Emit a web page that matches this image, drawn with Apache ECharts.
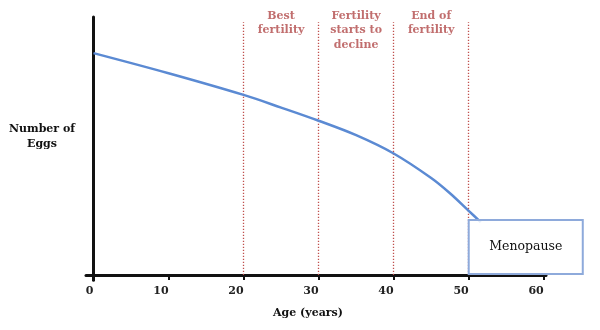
<!DOCTYPE html>
<html><head><meta charset="utf-8">
<script src="https://cdn.jsdelivr.net/npm/echarts@6/dist/echarts.min.js"></script>
<style>html,body{margin:0;padding:0;background:#fff}#c{width:600px;height:330px}</style>
</head><body><div id="c"></div>
<script>
const ages = [0, 10, 20, 25, 30, 35, 40, 45, 47.5, 50, 51.6];
const eggs = [86, 78.2, 69.8, 64.9, 59.8, 54.2, 47.1, 37.6, 31.7, 24.9, 20.5];
const tickValues = [0, 10, 20, 30, 40, 50, 60];
const phaseBounds = [20, 30, 40, 50];
const phaseCenters = [25, 35, 45];
const phaseLabels = ['Best\nfertility', 'Fertility\nstarts to\ndecline', 'End of\nfertility'];
const yName = 'Number of\nEggs';
const xName = 'Age (years)';
const boxLabel = 'Menopause';
const boxRange = [[50, 21.3], [65.2, 0.4]];

const FONT = '"DejaVu Serif", serif';
const chart = echarts.init(document.getElementById('c'), null, {renderer: 'canvas'});
chart.setOption({
  animation: false,
  grid: {left: 86, right: 54, top: 17, bottom: 49.8},
  xAxis: {
    type: 'value', min: -1, max: 60.3,
    name: xName, nameLocation: 'middle', nameGap: 33,
    nameTextStyle: {fontFamily: FONT, fontWeight: 'bold', fontSize: 11, color: '#111', verticalAlign: 'middle', padding: [0, 16, 0, 0]},
    axisLine: {onZero: true, lineStyle: {color: '#111', width: 3}},
    axisTick: {show: true, customValues: tickValues, length: 5, lineStyle: {color: '#111', width: 2}},
    axisLabel: {customValues: tickValues, align: 'right', margin: 5, fontFamily: FONT, fontWeight: 'bold', fontSize: 11, color: '#222'},
    splitLine: {show: false}
  },
  yAxis: {
    type: 'value', min: -2, max: 100,
    axisLine: {show: true, onZero: true, lineStyle: {color: '#111', width: 3}},
    axisTick: {show: false},
    axisLabel: {show: false},
    splitLine: {show: false}
  },
  series: [
    {
      type: 'line',
      data: ages.map((a, i) => [a, eggs[i]]),
      smooth: 0.35,
      symbol: 'none',
      lineStyle: {color: '#5b8ad3', width: 2.5},
      z: 5,
      markLine: {
        silent: true, symbol: ['none', 'none'], label: {show: false},
        lineStyle: {color: '#c0504d', width: 1.3, type: [1.3, 1.7]},
        data: phaseBounds.map(b => [{coord: [b, 0]}, {coord: [b, 98]}])
      }
    },
    {
      type: 'scatter',
      clip: false,
      symbolSize: 0,
      silent: true,
      data: phaseCenters.map(c => [c, 103.3]),
      label: {
        show: true, formatter: p => phaseLabels[p.dataIndex],
        position: [0, 0], align: 'center', verticalAlign: 'top',
        fontFamily: FONT, fontWeight: 'bold', fontSize: 11, lineHeight: 14.5, color: '#b24a4a'
      }
    }
  ]
});
const p1 = chart.convertToPixel({gridIndex: 0}, boxRange[0]);
const p2 = chart.convertToPixel({gridIndex: 0}, boxRange[1]);
chart.setOption({
  graphic: [
    {type: 'text', x: 42, y: 136.5,
     style: {text: yName, font: 'bold 11px ' + FONT, fill: '#111', align: 'center', verticalAlign: 'middle', lineHeight: 15}},
    {type: 'rect', z: 100, shape: {x: p1[0], y: p1[1], width: p2[0] - p1[0], height: p2[1] - p1[1]},
     style: {fill: 'rgba(255,255,255,0.85)', stroke: '#8eaadb', lineWidth: 2}},
    {type: 'text', z: 101, x: (p1[0] + p2[0]) / 2, y: (p1[1] + p2[1]) / 2,
     style: {text: boxLabel, font: '12.5px ' + FONT, fill: '#111', align: 'center', verticalAlign: 'middle'}}
  ]
});
</script></body></html>
